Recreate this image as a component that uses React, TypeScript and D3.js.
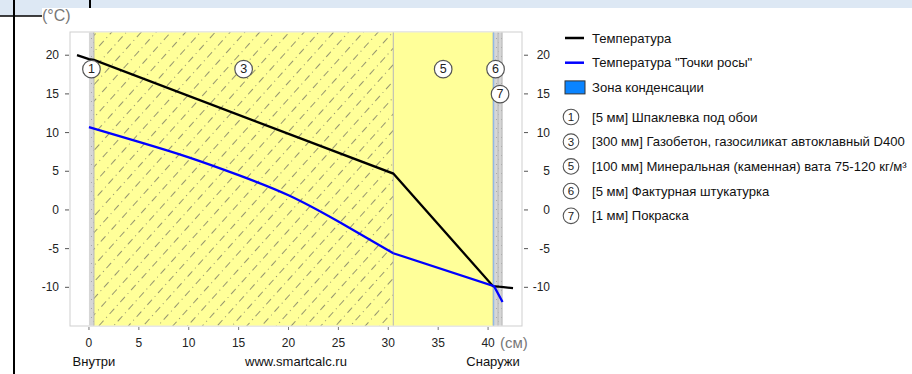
import React from 'react';
import * as d3 from 'd3';

const W = 912;
const H = 374;

// wall layers, thickness in cm, inside -> outside
const layerNums = [1, 3, 5, 6, 7];
const layerThick = [0.5, 30, 10, 0.5, 0.1];
const layerNames = [
  '[5 мм] Шпаклевка под обои',
  '[300 мм] Газобетон, газосиликат автоклавный D400',
  '[100 мм] Минеральная (каменная) вата 75-120 кг/м³',
  '[5 мм] Фактурная штукатурка',
  '[1 мм] Покраска',
];

// temperature through the wall (°C)
const tempX = [-1.2, 0, 0.5, 30.5, 40.5, 41.0, 41.1, 42.5];
const tempY = [20, 19.5, 19.4, 4.7, -9.85, -9.9, -9.92, -10.1];

// dew point
const dewX = [0, 5, 10, 15, 20, 25, 30.5, 40.6, 41.45];
const dewY = [10.7, 8.8, 6.8, 4.5, 1.9, -1.5, -5.6, -9.85, -11.9];

// condensation zone (cm)
const condZone = [40.5, 40.6];

const xTicks = [0, 5, 10, 15, 20, 25, 30, 35, 40];
const yTicks = [-10, -5, 0, 5, 10, 15, 20];
const lineLegend = ['Температура', 'Температура "Точки росы"'];
const zoneLegend = 'Зона конденсации';

const FONT = 'Liberation Sans, Arial, sans-serif';

const fillFor: Record<number, string> = {
  1: 'url(#plaster)',
  3: 'url(#gasblock)',
  5: '#ffff99',
  6: 'url(#plaster)',
  7: 'url(#plaster)',
};

export default function App() {
  const left = 70, right = 522, top = 32, bottom = 326;
  const x = d3.scaleLinear().domain([-1.9, 43.4]).range([left, right]);
  const y = d3.scaleLinear().domain([-15, 23]).range([bottom, top]);

  // layer pixel spans (thin layers get min width so they stay visible)
  let cum = 0;
  let px = x(0);
  const layers = layerThick.map((t, i) => {
    const x0 = Math.max(px, x(cum));
    cum += t;
    const x1 = Math.max(x0 + 4, x(cum));
    px = x1;
    return { num: layerNums[i], x0, x1 };
  });

  // numbered circles, staggered when crowded
  const labelY = y(18.2);
  let prevCx = -100, prevCy = labelY;
  const badges = layers.map((l) => {
    const cx = (l.x0 + l.x1) / 2;
    const cy = cx - prevCx < 18 ? prevCy + 25 : labelY;
    prevCx = cx;
    prevCy = cy;
    return { num: l.num, cx, cy };
  });

  const line = d3.line<[number, number]>().x((d) => x(d[0])).y((d) => y(d[1]));
  const tempPts = tempX.map((v, i) => [v, tempY[i]] as [number, number]);
  const dewPts = dewX.map((v, i) => [v, dewY[i]] as [number, number]);
  const splitAt = dewX.indexOf(30.5);
  const dewCurve = d3
    .line<[number, number]>()
    .x((d) => x(d[0]))
    .y((d) => y(d[1]))
    .curve(d3.curveNatural);

  const legX = 565;
  const legRows = [38, 62.7, 87.4];
  const itemRow0 = 117;
  const itemStep = 24.7;
  const legFont = 13.1;

  return (
    <svg
      width={W}
      height={H}
      style={{ position: 'absolute', left: 0, top: 0, fontFamily: FONT }}
    >
      <defs>
        <pattern id="gasblock" patternUnits="userSpaceOnUse" width={16} height={11} patternTransform="rotate(-48)">
          <rect width={16} height={11} fill="#ffff99" />
          <line x1={0} y1={5.5} x2={16} y2={5.5} stroke="#8a8a6a" strokeWidth={0.9} strokeDasharray="7 4 1 4" />
        </pattern>
        <pattern id="plaster" patternUnits="userSpaceOnUse" width={5} height={9}>
          <rect width={5} height={9} fill="#d6d6d6" />
          <rect x={1} y={2} width={1} height={1} fill="#a8a8a8" />
          <rect x={3} y={6} width={1} height={1} fill="#b4b4b4" />
        </pattern>
      </defs>

      {/* page chrome */}
      <rect x={0} y={0} width={W} height={8} fill="#dde8f4" />
      <rect x={0} y={8} width={42} height={8} fill="#dde8f4" />
      <line x1={0} y1={16} x2={42} y2={16} stroke="#000" strokeWidth={1.5} />
      <line x1={14} y1={0} x2={14} y2={H} stroke="#000" strokeWidth={2} />
      <line x1={90} y1={0} x2={90} y2={8} stroke="#000" strokeWidth={2} />

      {/* plot frame */}
      <rect x={left} y={top} width={right - left} height={bottom - top} fill="#fff" stroke="#cfcfcf" />

      {/* layers */}
      {layers.map((l) => (
        <rect key={l.num} x={l.x0} y={top + 0.5} width={l.x1 - l.x0} height={bottom - top - 1} fill={fillFor[l.num]} />
      ))}
      {layers.map((l) => (
        <line key={'b' + l.num} x1={l.x1} y1={top + 0.5} x2={l.x1} y2={bottom - 0.5} stroke="#b5b5b5" strokeWidth={1} />
      ))}
      <rect
        x={x(condZone[0])}
        y={top + 0.5}
        width={Math.max(1.2, x(condZone[1]) - x(condZone[0]))}
        height={bottom - top - 1}
        fill="#8db8e6"
      />

      {/* axes */}
      {yTicks.map((t) => (
        <g key={'yl' + t}>
          <line x1={65} x2={69} y1={y(t)} y2={y(t)} stroke="#555" />
          <text x={59} y={y(t) + 4} textAnchor="end" fontSize={12} fill="#222">{t}</text>
          <line x1={right + 2} x2={right + 6} y1={y(t)} y2={y(t)} stroke="#555" />
          <text x={550} y={y(t) + 4} textAnchor="end" fontSize={12} fill="#222">{t}</text>
        </g>
      ))}
      {xTicks.map((t) => (
        <g key={'xt' + t}>
          <line x1={x(t)} x2={x(t)} y1={bottom + 1} y2={bottom + 4} stroke="#777" />
          <text x={x(t)} y={347} textAnchor="middle" fontSize={12} fill="#222">{t}</text>
        </g>
      ))}
      <text x={42} y={21} fontSize={16} fill="#777">(°C)</text>
      <text x={500} y={348} fontSize={15} fill="#777">(см)</text>
      <text x={x(0.5)} y={366} textAnchor="middle" fontSize={13} fill="#111">Внутри</text>
      <text x={(left + right) / 2} y={366} textAnchor="middle" fontSize={13} fill="#111">www.smartcalc.ru</text>
      <text x={x(40.5)} y={366} textAnchor="middle" fontSize={13} fill="#111">Снаружи</text>

      {/* lines */}
      <path d={line(tempPts) || ''} fill="none" stroke="#000" strokeWidth={2.3} />
      <path d={dewCurve(dewPts.slice(0, splitAt + 1)) || ''} fill="none" stroke="#0000ff" strokeWidth={2.3} />
      <path d={line(dewPts.slice(splitAt)) || ''} fill="none" stroke="#0000ff" strokeWidth={2.3} />

      {/* layer badges */}
      {badges.map((b) => (
        <g key={'c' + b.num}>
          <circle cx={b.cx} cy={b.cy} r={8.8} fill="#fff" stroke="#555" strokeWidth={1.2} />
          <text x={b.cx} y={b.cy + 4.2} textAnchor="middle" fontSize={12.5} fill="#222">{b.num}</text>
        </g>
      ))}

      {/* legend */}
      <line x1={legX} x2={legX + 19} y1={legRows[0]} y2={legRows[0]} stroke="#000" strokeWidth={2.5} />
      <text x={592} y={legRows[0] + 4.5} fontSize={legFont} fill="#111">{lineLegend[0]}</text>
      <line x1={legX} x2={legX + 19} y1={legRows[1]} y2={legRows[1]} stroke="#0000ff" strokeWidth={2.5} />
      <text x={592} y={legRows[1] + 4.5} fontSize={legFont} fill="#111">{lineLegend[1]}</text>
      <rect x={legX} y={legRows[2] - 6.5} width={20} height={13} fill="#0a84ff" stroke="#333" />
      <text x={592} y={legRows[2] + 4.5} fontSize={legFont} fill="#111">{zoneLegend}</text>
      {layerNums.map((n, i) => {
        const cy = itemRow0 + i * itemStep;
        return (
          <g key={'li' + n}>
            <circle cx={571} cy={cy} r={7.8} fill="#fff" stroke="#555" strokeWidth={1.1} />
            <text x={571} y={cy + 4} textAnchor="middle" fontSize={11.5} fill="#222">{n}</text>
            <text x={592} y={cy + 4.5} fontSize={legFont} fill="#111">{layerNames[i]}</text>
          </g>
        );
      })}
    </svg>
  );
}
